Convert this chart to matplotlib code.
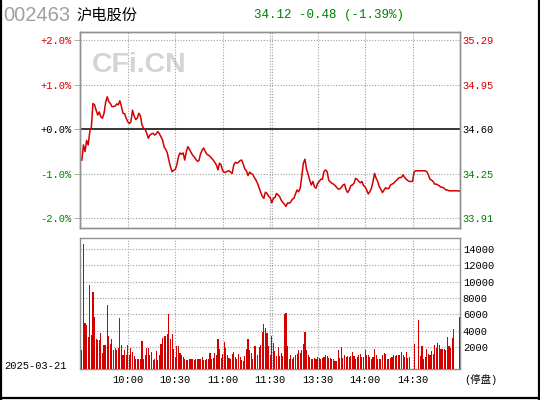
import numpy as np
import matplotlib
matplotlib.use("Agg")
import matplotlib.pyplot as plt
from matplotlib.lines import Line2D

plt.rcParams['font.family'] = ['Liberation Mono', 'Noto Sans CJK SC', 'DejaVu Sans']

RED = "#d40000"
GREEN = "#008000"
GRID = "#a0a0a0"

stock_code = "002463"
stock_name = "沪电股份"
trade_date = "2025-03-21"
prev_close = 34.60
last_price = 34.12

# cambio porcentual por minuto (9:30-11:30, 13:00-15:00)
change_pct = [
    -0.69, -0.35, -0.50, -0.25, -0.35, -0.05, 0.05, 0.58, 0.55, 0.43,
    0.32, 0.39, 0.28, 0.25, 0.36, 0.60, 0.73, 0.62, 0.58, 0.51,
    0.51, 0.52, 0.57, 0.55, 0.64, 0.51, 0.36, 0.35, 0.25, 0.17,
    0.13, 0.17, 0.43, 0.30, 0.22, 0.25, 0.36, 0.30, 0.10, 0.02,
    0.00, -0.09, -0.20, -0.13, -0.10, -0.09, -0.13, -0.10, -0.05, -0.10,
    -0.17, -0.24, -0.40, -0.45, -0.53, -0.70, -0.84, -0.95, -0.92, -0.90,
    -0.80, -0.62, -0.53, -0.56, -0.53, -0.69, -0.50, -0.39, -0.45, -0.52,
    -0.58, -0.62, -0.67, -0.72, -0.70, -0.55, -0.47, -0.42, -0.50, -0.56,
    -0.58, -0.61, -0.65, -0.69, -0.74, -0.80, -0.91, -0.76, -0.80, -0.93,
    -0.97, -0.96, -0.94, -0.93, -0.96, -0.99, -0.80, -0.74, -0.76, -0.74,
    -0.70, -0.69, -0.78, -0.89, -0.93, -1.04, -0.96, -0.99, -1.01, -1.08,
    -1.14, -1.21, -1.31, -1.41, -1.50, -1.55, -1.41, -1.44, -1.50, -1.53,
    -1.65, -1.55, -1.53, -1.44, -1.47, -1.51, -1.59, -1.64, -1.68, -1.73,
    -1.65, -1.66, -1.63, -1.57, -1.55, -1.45, -1.36, -1.40, -1.32, -1.05,
    -0.76, -0.67, -0.90, -1.01, -1.14, -1.25, -1.17, -1.29, -1.32, -1.21,
    -1.17, -1.12, -1.12, -0.95, -0.91, -0.95, -1.14, -1.18, -1.21, -1.23,
    -1.26, -1.30, -1.34, -1.34, -1.30, -1.25, -1.23, -1.36, -1.42, -1.36,
    -1.26, -1.25, -1.21, -1.10, -1.12, -1.17, -1.20, -1.17, -1.26, -1.29,
    -1.36, -1.45, -1.40, -1.32, -1.17, -0.99, -1.10, -1.17, -1.29, -1.35,
    -1.42, -1.36, -1.31, -1.33, -1.33, -1.25, -1.23, -1.21, -1.17, -1.14,
    -1.10, -1.08, -1.08, -1.02, -1.08, -1.12, -1.15, -1.17, -1.17, -1.17,
    -0.95, -0.93, -0.93, -0.93, -0.93, -0.93, -0.93, -0.93, -0.95, -1.02,
    -1.12, -1.14, -1.17, -1.23, -1.23, -1.25, -1.27, -1.30, -1.30, -1.32,
    -1.36, -1.36, -1.38, -1.38, -1.38, -1.38, -1.38, -1.38, -1.38, -1.39,
]

# volumen por minuto (manos)
volume = [
    1700, 14600, 4900, 4700, 3200, 9600, 3500, 8800, 5700, 3000,
    2900, 2900, 3700, 1300, 2300, 2300, 7200, 3400, 2400, 3000,
    1700, 1900, 1700, 1900, 5600, 2300, 1100, 1700, 1000, 2300,
    1000, 1900, 1400, 900, 600, 600, 600, 600, 2800, 500,
    1000, 1900, 1900, 1000, 1400, 400, 600, 1500, 400, 1100,
    2400, 3100, 3400, 3400, 3600, 6000, 3000, 3600, 1800, 800,
    2200, 2200, 1300, 1100, 800, 600, 400, 400, 500, 600,
    600, 400, 500, 500, 600, 500, 800, 400, 400, 500,
    600, 1300, 600, 700, 1300, 1000, 3000, 1800, 700, 1200,
    2600, 1900, 1100, 700, 500, 1200, 1400, 800, 500, 1200,
    800, 400, 300, 900, 1800, 3000, 1700, 1300, 600, 2200,
    2200, 1100, 2000, 2300, 3900, 4800, 4300, 3700, 2200, 1000,
    3400, 2500, 1500, 900, 2000, 900, 1300, 900, 6000, 6200,
    2100, 600, 1000, 600, 800, 1000, 1200, 1600, 1300, 1600,
    2400, 3900, 1700, 1000, 800, 600, 600, 700, 600, 800,
    700, 600, 700, 800, 1000, 900, 700, 700, 600, 600,
    300, 300, 1700, 700, 2000, 700, 1000, 800, 900, 800,
    900, 1400, 900, 600, 800, 1100, 1200, 800, 800, 1700,
    1100, 1100, 800, 600, 800, 1800, 1100, 600, 600, 500,
    1100, 1300, 1200, 600, 500, 700, 800, 1100, 900, 1000,
    1100, 1000, 1400, 1100, 800, 1400, 700, 800, 0, 0,
    2400, 0, 0, 5300, 900, 2100, 600, 800, 1800, 1200,
    1000, 1500, 1200, 2300, 1900, 2500, 2300, 1800, 1800, 1800,
    1600, 3300, 2200, 1900, 3100, 4200, 0, 0, 0, 5700,
]

time_ticks = [30, 60, 90, 120, 150, 180, 210]
time_labels = ["10:00", "10:30", "11:00", "11:30", "13:30", "14:00", "14:30"]
pct_ticks = [2, 1, 0, -1, -2]
vol_ticks = [2000, 4000, 6000, 8000, 10000, 12000, 14000]

x = np.arange(len(change_pct)) + 1
pct = np.array(change_pct)
vol = np.array(volume, dtype=float)

fig = plt.figure(figsize=(5.4, 4.0), dpi=100)
fig.patch.set_facecolor("white")

# marco negro de la figura
for xs, ys in [([0.002, 0.002], [0, 1]), ([0.998, 0.998], [0, 1]), ([0, 1], [0.004, 0.004])]:
    fig.add_artist(Line2D(xs, ys, color="black", lw=1.6, transform=fig.transFigure))

# cabecera
fig.text(0.006, 0.962, stock_code, family="Liberation Sans", fontsize=14.5, color="#a0a0a0", va="center")
fig.text(0.141, 0.962, stock_name, family="Noto Sans CJK SC", fontsize=11, color="black", va="center")
chg = last_price - prev_close
head = f"{last_price:.2f} {chg:+.2f} ({chg / prev_close * 100:+.2f}%)"
fig.text(0.61, 0.963, head, fontsize=9, color=GREEN, va="center", ha="center")

# panel de precio
ax1 = fig.add_axes([0.1487, 0.4293, 0.7032, 0.4915])
ax1.set_xlim(0, 240)
ax1.set_ylim(-2.22, 2.19)
for p in pct_ticks:
    if p != 0:
        ax1.axhline(p, color=GRID, lw=0.8, ls=(0, (1, 1.5)), zorder=1)
ax1.axhline(0, color="black", lw=1.1, zorder=2)
for t in time_ticks:
    ax1.axvline(t, color=GRID, lw=0.8, ls=(0, (1, 1.5)), zorder=1)
ax1.axvline(121.2, color=GRID, lw=0.8, ls=(0, (1, 1.5)), zorder=1)
ax1.plot(x, pct, color=RED, lw=1.1, zorder=3)

ax1.text(0.154, 0.83, "CFi.CN", transform=ax1.transAxes, family="Liberation Sans",
         fontweight="bold", fontsize=20.5, color="#d4d4d4", ha="center", va="center", zorder=0)

ax1.set_xticks([])
ax1.set_yticks(pct_ticks)
ax1.set_yticklabels([f"{p:+.1f}%" for p in pct_ticks], fontsize=7.5)
ax1.tick_params(axis="y", length=4, width=0.6, color=GRID, pad=2)
for lab, p in zip(ax1.get_yticklabels(), pct_ticks):
    lab.set_color(RED if p > 0 else ("black" if p == 0 else GREEN))

ax1r = ax1.twinx()
ax1r.set_ylim(ax1.get_ylim())
ax1r.set_yticks(pct_ticks)
ax1r.set_yticklabels([f"{prev_close * (1 + p / 100):.2f}" for p in pct_ticks], fontsize=7.5)
ax1r.tick_params(axis="y", length=0, pad=2)
for lab, p in zip(ax1r.get_yticklabels(), pct_ticks):
    lab.set_color(RED if p > 0 else ("black" if p == 0 else GREEN))

for a in (ax1, ax1r):
    for s in a.spines.values():
        s.set_color("#909090")
        s.set_linewidth(1.0)

# panel de volumen
vol_floor = -700
ax2 = fig.add_axes([0.1487, 0.0768, 0.7032, 0.3283])
ax2.set_xlim(0, 240)
ax2.set_ylim(vol_floor, 15350)
for v in vol_ticks:
    ax2.axhline(v, color=GRID, lw=0.8, ls=(0, (1, 1.5)), zorder=1)
for t in time_ticks:
    ax2.axvline(t, color=GRID, lw=0.8, ls=(0, (1, 1.5)), zorder=1)
ax2.axvline(121.2, color=GRID, lw=0.8, ls=(0, (1, 1.5)), zorder=1)

mask = vol > 0
ax2.bar(x[mask], vol[mask] - vol_floor, bottom=vol_floor, width=0.7,
        color=RED, linewidth=0, zorder=3)

ax2.yaxis.tick_right()
ax2.set_yticks(vol_ticks)
ax2.set_yticklabels([str(v) for v in vol_ticks], fontsize=7.5)
ax2.tick_params(axis="y", length=0, pad=2)
ax2.set_xticks(time_ticks)
ax2.set_xticklabels(time_labels, fontsize=7.5)
ax2.tick_params(axis="x", length=0, pad=4)
for s in ax2.spines.values():
    s.set_color("#909090")
    s.set_linewidth(1.0)

fig.text(0.066, 0.085, trade_date, fontsize=7.5, color="black", ha="center", va="center")
fig.text(0.89, 0.05, "(停盘)", fontsize=7.5, color="black", ha="center", va="center")

fig.savefig("out.png", dpi=100, facecolor="white")
